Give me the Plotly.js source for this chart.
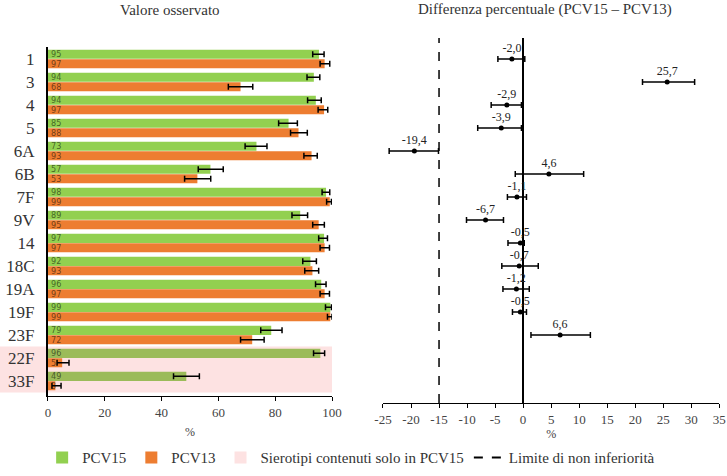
<!DOCTYPE html>
<html>
<head>
<meta charset="utf-8">
<script src="https://cdn.plot.ly/plotly-3.0.1.min.js"></script>
<style>
  html, body { margin: 0; padding: 0; background: #fff; }
  #chart { width: 727px; height: 476px; }
</style>
</head>
<body>
<div id="chart"></div>
<script>
const serotypes = ['1', '3', '4', '5', '6A', '6B', '7F', '9V', '14', '18C', '19A', '19F', '23F', '22F', '33F'];
const onlyInPcv15 = ['22F', '33F'];

// valore osservato (%)
const pcv15 = [95.4, 93.6, 94.3, 84.7, 73.4, 57.2, 97.9, 88.8, 97.2, 92.4, 96.2, 99.4, 78.6, 95.9, 48.7];
const pcv15Low = [93.2, 91.2, 91.4, 81.2, 69.4, 52.9, 96.5, 85.9, 95.3, 89.7, 94.2, 97.7, 74.9, 93.5, 44.2];
const pcv15High = [97.2, 95.7, 96.2, 87.8, 77.1, 61.7, 99.2, 91.4, 98.4, 94.5, 97.9, 99.8, 82.4, 97.4, 53.3];

const pcv13 = [97.4, 67.8, 97.2, 88.2, 92.8, 52.6, 99.2, 95.3, 97.4, 93.1, 97.4, 99.4, 71.9, 5.0, 2.6];
const pcv13Low = [95.8, 63.5, 95.1, 85.4, 90.1, 48.1, 98.1, 93.2, 95.8, 90.4, 95.8, 98.4, 67.8, 3.2, 1.4];
const pcv13High = [99.2, 72.1, 98.5, 91.3, 94.8, 57.3, 99.8, 97.3, 99.1, 95.3, 99.1, 100, 76.1, 7.4, 4.6];

// differenza percentuale PCV15 - PCV13
const diff = [-2.0, 25.7, -2.9, -3.9, -19.4, 4.6, -1.1, -6.7, -0.5, -0.7, -1.2, -0.5, 6.6, null, null];
const diffLow = [-4.5, 21.3, -5.7, -8.1, -23.9, -1.4, -2.8, -10.1, -2.7, -3.8, -3.6, -1.9, 1.4, null, null];
const diffHigh = [0.3, 30.6, -0.3, -0.3, -15.1, 10.8, 0.6, -3.5, 0.2, 2.7, 1.1, 0.6, 12.0, null, null];

const NI_LIMIT = -15;
const diffTicks = [-25, -20, -15, -10, -5, 0, 5, 10, 15, 20, 25, 30, 35];

const GREEN = '#92D050';
const GREEN_SHADED = '#9BBB59';
const ORANGE = '#ED7D31';
const PINK = '#FDE2E2';
const FONT = 'Liberation Serif, Times New Roman, serif';

const leftDomainY = [0.0192, 0.974];
const leftRangeY = [14.65, -0.5];

function toPaperY(pos) {
  const frac = (leftRangeY[0] - pos) / (leftRangeY[0] - leftRangeY[1]);
  return leftDomainY[0] + frac * (leftDomainY[1] - leftDomainY[0]);
}

const barText = (vals) => vals.map((v) => String(Math.round(v)));
const fmtComma = (v) => (v === null ? '' : v.toFixed(1).replace('.', ','));

const barLabelFont = { size: 9, color: 'rgba(0,0,0,0.55)', family: 'DejaVu Sans Condensed, sans-serif' };
const tickFont = { size: 13, color: '#444', family: FONT };

const traces = [
  {
    type: 'bar',
    orientation: 'h',
    name: 'PCV15',
    y: serotypes,
    x: pcv15,
    text: barText(pcv15),
    textposition: 'inside',
    insidetextanchor: 'start',
    constraintext: 'none',
    textangle: 0,
    textfont: barLabelFont,
    marker: { color: serotypes.map((s) => (onlyInPcv15.includes(s) ? GREEN_SHADED : GREEN)) },
    error_x: {
      type: 'data',
      array: pcv15High.map((h, i) => h - pcv15[i]),
      arrayminus: pcv15Low.map((l, i) => pcv15[i] - l),
      color: '#000',
      thickness: 1.5,
      width: 3,
    },
    hoverinfo: 'skip',
    xaxis: 'x',
    yaxis: 'y',
  },
  {
    type: 'bar',
    orientation: 'h',
    name: 'PCV13',
    y: serotypes,
    x: pcv13,
    text: barText(pcv13),
    textposition: 'inside',
    insidetextanchor: 'start',
    constraintext: 'none',
    textangle: 0,
    textfont: barLabelFont,
    marker: { color: ORANGE },
    error_x: {
      type: 'data',
      array: pcv13High.map((h, i) => h - pcv13[i]),
      arrayminus: pcv13Low.map((l, i) => pcv13[i] - l),
      color: '#000',
      thickness: 1.5,
      width: 3,
    },
    hoverinfo: 'skip',
    xaxis: 'x',
    yaxis: 'y',
  },
  {
    // legend only
    type: 'bar',
    orientation: 'h',
    name: 'Sierotipi contenuti solo in PCV15',
    x: [null],
    y: [serotypes[0]],
    marker: { color: PINK },
    xaxis: 'x2',
    yaxis: 'y2',
    hoverinfo: 'skip',
  },
  {
    // legend only
    type: 'scatter',
    mode: 'lines',
    name: 'Limite di non inferiorità',
    x: [null, null],
    y: [serotypes[0], serotypes[1]],
    line: { color: '#000', width: 2, dash: 'dash' },
    xaxis: 'x2',
    yaxis: 'y2',
    hoverinfo: 'skip',
  },
  {
    type: 'scatter',
    mode: 'markers+text',
    showlegend: false,
    y: serotypes,
    x: diff,
    text: diff.map(fmtComma),
    textposition: 'top center',
    textfont: { size: 12, color: '#222', family: FONT },
    marker: { color: '#000', size: 5 },
    error_x: {
      type: 'data',
      array: diffHigh.map((h, i) => (h === null ? null : h - diff[i])),
      arrayminus: diffLow.map((l, i) => (l === null ? null : diff[i] - l)),
      color: '#000',
      thickness: 1.5,
      width: 3,
    },
    cliponaxis: false,
    hoverinfo: 'skip',
    xaxis: 'x2',
    yaxis: 'y2',
  },
];

const layout = {
  width: 727,
  height: 476,
  margin: { l: 0, r: 0, t: 38, b: 73 },
  font: { family: FONT, color: '#333' },
  barmode: 'group',
  bargap: 0.18,
  bargroupgap: 0.03,
  showlegend: true,
  legend: {
    orientation: 'h',
    x: 0.483,
    xanchor: 'center',
    y: -0.15,
    yanchor: 'middle',
    font: { size: 15, family: FONT, color: '#333' },
    traceorder: 'normal',
  },
  xaxis: {
    domain: [0.066, 0.4567],
    range: [0, 100],
    tickvals: [0, 20, 40, 60, 80, 100],
    ticks: 'outside',
    ticklen: 4,
    tickcolor: '#000',
    showline: true,
    linecolor: '#000',
    linewidth: 1,
    showgrid: false,
    zeroline: false,
    tickfont: tickFont,
    title: { text: '%', font: { size: 12, color: '#444', family: FONT }, standoff: 9 },
    anchor: 'y',
  },
  yaxis: {
    domain: leftDomainY,
    type: 'category',
    range: leftRangeY,
    autorange: false,
    showline: true,
    linecolor: '#000',
    linewidth: 2,
    ticks: '',
    ticklabelstandoff: 8,
    showgrid: false,
    zeroline: false,
    tickfont: { size: 17, color: '#333', family: FONT },
    anchor: 'x',
  },
  xaxis2: {
    domain: [0.5268, 0.9894],
    range: [-25, 35],
    tickvals: diffTicks,
    ticktext: diffTicks.map(String),
    ticks: 'outside',
    ticklen: 4,
    tickcolor: '#000',
    showline: true,
    linecolor: '#000',
    linewidth: 1,
    showgrid: false,
    zeroline: true,
    zerolinecolor: '#000',
    zerolinewidth: 1.5,
    tickfont: tickFont,
    title: { text: '%', font: { size: 12, color: '#444', family: FONT }, standoff: 2 },
    anchor: 'y2',
  },
  yaxis2: {
    domain: [0, 1],
    type: 'category',
    categoryarray: serotypes,
    range: [14.96, -0.91],
    autorange: false,
    showticklabels: false,
    showline: false,
    showgrid: false,
    zeroline: false,
    ticks: '',
    anchor: 'x2',
  },
  shapes: [
    {
      type: 'rect',
      xref: 'paper',
      yref: 'paper',
      x0: 0,
      x1: 0.4567,
      y0: toPaperY(serotypes.length - 0.5),
      y1: toPaperY(serotypes.indexOf(onlyInPcv15[0]) - 0.5),
      fillcolor: PINK,
      line: { width: 0 },
      layer: 'below',
    },
    {
      type: 'line',
      xref: 'x2',
      yref: 'y2 domain',
      x0: NI_LIMIT,
      x1: NI_LIMIT,
      y0: 0,
      y1: 1,
      line: { color: '#000', width: 1.5, dash: 'dash' },
    },
  ],
  annotations: [
    {
      text: 'Valore osservato',
      xref: 'paper',
      yref: 'paper',
      x: 0.2338,
      xanchor: 'center',
      y: 1.077,
      yanchor: 'middle',
      showarrow: false,
      font: { size: 15, color: '#333', family: FONT },
    },
    {
      text: 'Differenza percentuale (PCV15 – PCV13)',
      xref: 'paper',
      yref: 'paper',
      x: 0.7497,
      xanchor: 'center',
      y: 1.077,
      yanchor: 'middle',
      showarrow: false,
      font: { size: 15, color: '#333', family: FONT },
    },
  ],
  plot_bgcolor: 'rgba(0,0,0,0)',
  paper_bgcolor: '#fff',
};

Plotly.newPlot('chart', traces, layout, { displayModeBar: false, staticPlot: true });
</script>
</body>
</html>
